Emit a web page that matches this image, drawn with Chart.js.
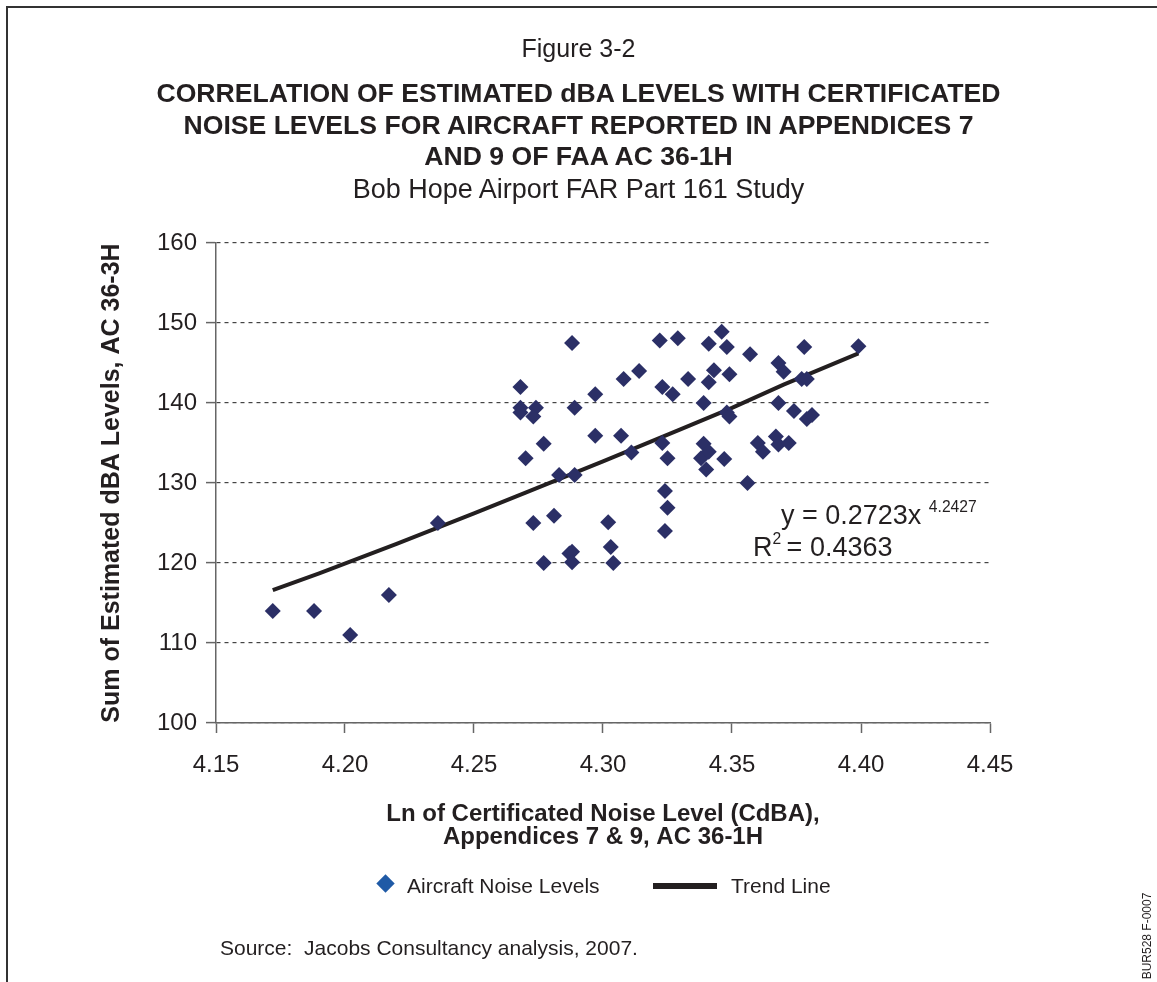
<!DOCTYPE html>
<html>
<head>
<meta charset="utf-8">
<script src="https://cdn.jsdelivr.net/npm/chart.js@4.4.0/dist/chart.umd.min.js"></script>
<style>
  body { margin: 0; background: #fff; font-family: "Liberation Sans", Arial, sans-serif; color: #231f20; }
  #page { position: relative; width: 1157px; height: 982px; overflow: hidden; }
  #frame { position: absolute; left: 6px; top: 6px; width: 1160px; height: 990px; border-left: 2px solid #333; border-top: 2px solid #333; }
  #chartCanvas { position: absolute; left: 0; top: 0; }
  .txt { position: absolute; white-space: nowrap; }
  .center { left: 0; width: 1157px; text-align: center; }
  sup { font-size: 58%; vertical-align: 0.75em; line-height: 0; }
</style>
</head>
<body>
<div id="page">
  <div id="frame"></div>
  <canvas id="chartCanvas" width="1157" height="982"></canvas>

  <div class="txt center" style="top:35px; font-size:25px; line-height:26px;">Figure 3-2</div>
  <div class="txt center" style="top:78px; font-size:26.6px; line-height:31.5px; font-weight:bold;">
    CORRELATION OF ESTIMATED dBA LEVELS WITH CERTIFICATED<br>
    NOISE LEVELS FOR AIRCRAFT REPORTED IN APPENDICES 7<br>
    AND 9 OF FAA AC 36-1H
  </div>
  <div class="txt center" style="top:175px; font-size:27px; line-height:28px;">Bob Hope Airport FAR Part 161 Study</div>

  <div class="txt" style="left:781px; top:500px; font-size:27px; line-height:30px;">y = 0.2723x <sup>4.2427</sup></div>
  <div class="txt" style="left:753px; top:532px; font-size:27px; line-height:30px;">R<sup>2</sup>&thinsp;= 0.4363</div>

  <div class="txt" style="left:379px; top:877px; width:13px; height:13px; background:#1f5aa6; transform:rotate(45deg);"></div>
  <div class="txt" style="left:407px; top:874px; font-size:21px; line-height:24px;">Aircraft Noise Levels</div>
  <div class="txt" style="left:653px; top:883px; width:64px; height:6px; background:#231f20;"></div>
  <div class="txt" style="left:731px; top:874px; font-size:21px; line-height:24px;">Trend Line</div>

  <div class="txt" style="left:220px; top:936px; font-size:21px; line-height:24px;">Source:&nbsp; Jacobs Consultancy analysis, 2007.</div>
  <div class="txt" style="left:1097px; top:929px; width:100px; text-align:center; font-size:12px; line-height:14px; transform:rotate(-90deg);">BUR528 F-0007</div>
</div>

<script>
// Ln of certificated noise level (x) and sum of estimated dBA (y)
var noiseX = [
  4.172, 4.188, 4.202, 4.217, 4.236,
  4.268, 4.268, 4.268, 4.274, 4.273, 4.270, 4.277, 4.273, 4.281, 4.277, 4.283,
  4.287, 4.288, 4.288, 4.288, 4.289, 4.289,
  4.297, 4.297, 4.302, 4.303, 4.304, 4.307, 4.308, 4.311, 4.314,
  4.322, 4.323, 4.323, 4.324, 4.324, 4.325, 4.325, 4.327, 4.329, 4.333,
  4.339, 4.339, 4.338, 4.340, 4.341, 4.341, 4.341, 4.343, 4.346, 4.347,
  4.348, 4.349, 4.348, 4.349,
  4.356, 4.357, 4.360, 4.362, 4.367, 4.368, 4.368, 4.368, 4.370, 4.372,
  4.374, 4.377, 4.378, 4.379, 4.379, 4.381, 4.399
];
var noiseY = [
  114, 114, 111, 116, 125,
  142, 139.4, 138.8, 139.4, 138.3, 133.1, 134.9, 125, 125.9, 120, 131,
  121.2, 121.4, 120.1, 147.5, 139.4, 131,
  141.1, 135.9, 125.1, 122, 120, 135.9, 143, 133.8, 144,
  147.8, 142, 135, 129, 124, 133.1, 126.9, 141.1, 148.1, 143,
  140, 134.9, 133.1, 131.7, 133.9, 147.4, 142.6, 144.1, 148.9, 133,
  138.8, 138.3, 147, 143.6,
  130, 146.1, 135, 133.9, 135.8, 145, 140, 134.8, 143.9, 135,
  139, 143, 147, 143, 138, 138.5, 147.1
];

// trend line as drawn on the figure
var trendX = [4.172, 4.19, 4.22, 4.25, 4.27, 4.30, 4.33, 4.35, 4.37, 4.399];
var trendY = [116.6, 118.7, 122.4, 126.2, 128.8, 132.7, 136.7, 139.4, 142.3, 146.2];

var xTicks = [4.15, 4.20, 4.25, 4.30, 4.35, 4.40, 4.45];
var yTicks = [100, 110, 120, 130, 140, 150, 160];

var scatterData = noiseX.map(function (x, i) { return { x: x, y: noiseY[i] }; });
var trendData = trendX.map(function (x, i) { return { x: x, y: trendY[i] }; });

var ctx = document.getElementById('chartCanvas');
var myChart = new Chart(ctx, {
    type: 'scatter',
    data: {
        datasets: [{
            label: 'Aircraft Noise Levels',
            data: scatterData,
            pointStyle: 'rectRot',
            pointRadius: 8,
            pointHoverRadius: 8,
            backgroundColor: '#2b2f66',
            borderColor: '#2b2f66',
            borderWidth: 0,
        }, {
            label: 'Trend Line',
            data: trendData,
            showLine: true,
            borderColor: '#231f20',
            borderWidth: 4,
            pointRadius: 0,
            fill: false,
            tension: 0,
        }]
    },
    options: {
        responsive: false,
        animation: false,
        devicePixelRatio: 1,
        layout: {
            padding: { left: 90, right: 167, top: 243, bottom: 129 }
        },
        plugins: {
            legend: { display: false },
            title: { display: false },
            tooltip: { enabled: false }
        },
        scales: {
            x: {
                type: 'linear',
                min: 4.15,
                max: 4.45,
                afterFit: function (scale) { scale.height = 130; },
                afterBuildTicks: function (scale) {
                    scale.ticks = xTicks.map(function (v) { return { value: v }; });
                },
                ticks: {
                    font: { family: 'Liberation Sans', size: 24 },
                    color: '#231f20',
                    padding: 18,
                    callback: function (v) { return Number(v).toFixed(2); }
                },
                grid: {
                    drawOnChartArea: false,
                    drawTicks: true,
                    tickLength: 10,
                    tickColor: '#666',
                    tickWidth: 1.5
                },
                border: { color: '#666', width: 1.5 },
                title: {
                    display: true,
                    text: ['Ln of Certificated Noise Level (CdBA),', 'Appendices 7 & 9, AC 36-1H'],
                    font: { family: 'Liberation Sans', size: 24, weight: 'bold', lineHeight: 0.95 },
                    color: '#231f20',
                    padding: { top: 0, bottom: 4 }
                }
            },
            y: {
                min: 100,
                max: 160,
                afterFit: function (scale) { scale.width = 126; },
                afterBuildTicks: function (scale) {
                    scale.ticks = yTicks.map(function (v) { return { value: v }; });
                },
                ticks: {
                    font: { family: 'Liberation Sans', size: 24 },
                    color: '#231f20',
                    padding: 9
                },
                grid: {
                    color: '#444',
                    lineWidth: 1.2,
                    tickLength: 10,
                    tickColor: '#666',
                    tickWidth: 1.5,
                    tickBorderDash: []
                },
                border: { color: '#666', width: 1.5, dash: [4, 4] },
                title: {
                    display: true,
                    text: 'Sum of Estimated dBA Levels, AC 36-3H',
                    font: { family: 'Liberation Sans', size: 25, weight: 'bold', lineHeight: 1.0 },
                    color: '#231f20',
                    padding: { top: 10, bottom: 0 }
                }
            }
        }
    }
});
</script>
</body>
</html>
